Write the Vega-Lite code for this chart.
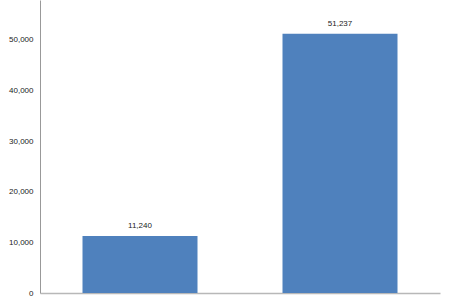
{
  "$schema": "https://vega.github.io/schema/vega-lite/v6.json",
  "autosize": "none",
  "width": 400,
  "height": 293,
  "padding": {"left": 40, "top": 0, "right": 10, "bottom": 7},
  "background": "white",
  "config": {"view": {"stroke": null}, "font": "Liberation Sans"},
  "data": {"values": [
    {"category": "A", "value": 11240},
    {"category": "B", "value": 51237}
  ]},
  "encoding": {
    "x": {"field": "category", "type": "nominal",
      "scale": {"paddingInner": 0.425, "paddingOuter": 0.2125},
      "axis": {"labels": false, "ticks": false, "title": null, "domainColor": "#b8b8b8", "domainWidth": 1.5}},
    "y": {"field": "value", "type": "quantitative",
      "scale": {"domain": [0, 57900], "nice": false},
      "axis": {"values": [0, 10000, 20000, 30000, 40000, 50000], "format": ",.0f", "grid": false, "ticks": false,
        "title": null, "labelFontSize": 8, "labelColor": "#222", "labelPadding": 7, "domainColor": "#999"}}
  },
  "layer": [
    {"mark": {"type": "bar", "color": "#4F81BD"}},
    {"mark": {"type": "text", "dy": -6, "baseline": "bottom", "fontSize": 8, "color": "#222"},
      "encoding": {"text": {"field": "value", "type": "quantitative", "format": ",.0f"}}}
  ]
}
